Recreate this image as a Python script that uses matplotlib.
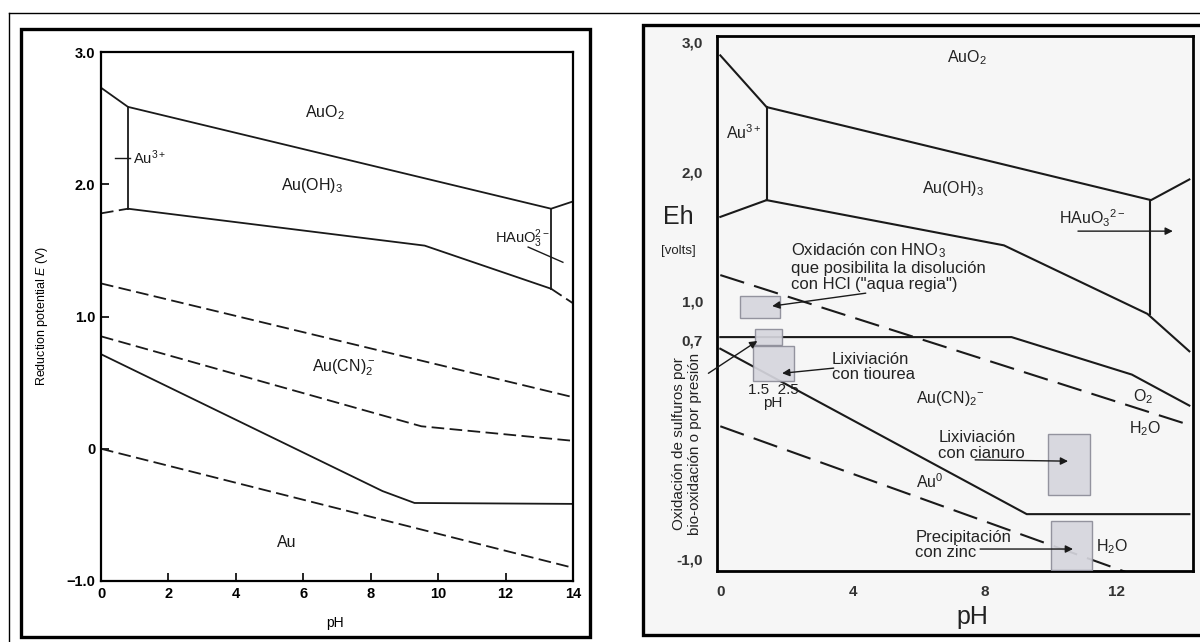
import matplotlib
matplotlib.use("Agg")
import matplotlib.pyplot as plt
from matplotlib.patches import Rectangle
from matplotlib.lines import Line2D

plt.rcParams["font.family"] = ["Liberation Sans", "DejaVu Sans"]
plt.rcParams["mathtext.fontset"] = "custom"
plt.rcParams["mathtext.rm"] = "Liberation Sans"
plt.rcParams["mathtext.it"] = "Liberation Sans:italic"

# ---- left diagram (Au-CN-H2O) ----
L_TOP_PH = [0, 0.8, 13.35, 14]
L_TOP_E = [2.73, 2.585, 1.815, 1.87]
L_AU3_PH = [0.8, 0.8]
L_AU3_E = [2.585, 1.815]
L_AU3_DASH_PH = [0, 0.8]
L_AU3_DASH_E = [1.78, 1.815]
L_OH_LOW_PH = [0.8, 9.6, 13.35]
L_OH_LOW_E = [1.815, 1.536, 1.21]
L_HAUO3_PH = [13.35, 13.35]
L_HAUO3_E = [1.815, 1.21]
L_HAUO3_DASH_PH = [13.35, 14]
L_HAUO3_DASH_E = [1.21, 1.10]
L_O2_PH = [0, 14]
L_O2_E = [1.25, 0.39]
L_CN_DASH_PH = [0, 9.5, 14]
L_CN_DASH_E = [0.85, 0.17, 0.06]
L_AU_PH = [0, 8.35, 9.3, 14]
L_AU_E = [0.715, -0.32, -0.41, -0.417]
L_H2_PH = [0, 14]
L_H2_E = [0.0, -0.9]

L_XTICKS = [0, 2, 4, 6, 8, 10, 12, 14]
L_YTICKS = [-1, 0, 1, 2, 3]
L_YTICK_LABELS = ["\u22121.0", "0", "1.0", "2.0", "3.0"]

# ---- right diagram (annotated Eh-pH) ----
R_TOP_PH = [0, 1.4, 13.03, 14.19]
R_TOP_E = [2.90, 2.50, 1.78, 1.94]
R_AU3_PH = [1.4, 1.4]
R_AU3_E = [2.50, 1.78]
R_AU3_LOW_PH = [0, 1.4]
R_AU3_LOW_E = [1.65, 1.78]
R_OH_LOW_PH = [1.4, 8.58, 12.92, 14.19]
R_OH_LOW_E = [1.78, 1.43, 0.90, 0.61]
R_HAUO3_PH = [13.0, 13.0]
R_HAUO3_E = [1.78, 0.90]
R_O2_PH = [0, 14.07]
R_O2_E = [1.20, 0.05]
R_CN_PH = [0, 8.81, 12.45, 14.19]
R_CN_E = [0.72, 0.72, 0.43, 0.19]
R_AU_PH = [0, 9.27, 14.19]
R_AU_E = [0.63, -0.65, -0.65]
R_H2_PH = [0, 12.51]
R_H2_E = [0.03, -1.12]

# boxes: (pH_min, pH_max, E_min, E_max)
R_BOXES = [
    (0.60, 1.81, 0.87, 1.04),
    (1.06, 1.87, 0.66, 0.78),
    (1.00, 2.24, 0.38, 0.65),
    (9.92, 11.19, -0.50, -0.03),
    (10.00, 11.25, -1.08, -0.70),
]

R_XTICKS = [0, 4, 8, 12]
R_YTICKS = [-1.0, 0.7, 1.0, 2.0, 3.0]
R_YTICK_LABELS = ["-1,0", "0,7", "1,0", "2,0", "3,0"]

W, H = 1200, 642


def px_rect(x0, y0, x1, y1):
    return [x0 / W, 1 - y1 / H, (x1 - x0) / W, (y1 - y0) / H]


def fig_pt(x, y):
    return x / W, 1 - y / H


fig = plt.figure(figsize=(W / 100, H / 100), dpi=100)

# outer thin border and the two thick frames
fig.add_artist(Line2D([9 / W, 1], [1 - 13 / H] * 2, color="black", lw=1.0))
fig.add_artist(Line2D([9 / W] * 2, [0, 1 - 13 / H], color="black", lw=1.0))
fig.add_artist(Rectangle(fig_pt(21, 637), (590 - 21) / W, (637 - 29) / H,
                         transform=fig.transFigure, fill=False, lw=2.4, ec="black"))
fig.add_artist(Rectangle(fig_pt(643, 635), (1215 - 643) / W, (635 - 25) / H,
                         transform=fig.transFigure, fc="#f6f6f6", lw=2.4, ec="black",
                         zorder=-1))

# ================= left panel =================
ax1 = fig.add_axes(px_rect(101, 52, 573, 581))
ax1.set_xlim(0, 14)
ax1.set_ylim(-1, 3)
dash_l = (0, (7, 3))
kw = dict(color="#1a1a1a", lw=1.3)
ax1.plot(L_TOP_PH, L_TOP_E, **kw)
ax1.plot(L_AU3_PH, L_AU3_E, **kw)
ax1.plot(L_AU3_DASH_PH, L_AU3_DASH_E, ls=dash_l, **kw)
ax1.plot(L_OH_LOW_PH, L_OH_LOW_E, **kw)
ax1.plot(L_HAUO3_PH, L_HAUO3_E, **kw)
ax1.plot(L_HAUO3_DASH_PH, L_HAUO3_DASH_E, ls=dash_l, **kw)
ax1.plot(L_O2_PH, L_O2_E, ls=dash_l, **kw)
ax1.plot(L_CN_DASH_PH, L_CN_DASH_E, ls=dash_l, **kw)
ax1.plot(L_AU_PH, L_AU_E, **kw)
ax1.plot(L_H2_PH, L_H2_E, ls=dash_l, **kw)

ax1.plot([0.42, 0.86], [2.20, 2.20], color="#1a1a1a", lw=1.0)
ax1.plot([12.67, 13.70], [1.525, 1.41], color="#1a1a1a", lw=1.0)

lt = dict(fontsize=11.5, color="#1a1a1a", ha="center", va="center")
ax1.text(6.65, 2.54, "AuO$_2$", **lt)
ax1.text(6.25, 1.99, "Au(OH)$_3$", **lt)
ax1.text(7.2, 0.61, "Au(CN)$_2^-$", **lt)
ax1.text(5.5, -0.71, "Au", **lt)
ax1.text(0.95, 2.20, "Au$^{3+}$", fontsize=10.5, color="#1a1a1a", ha="left", va="center")
ax1.text(12.5, 1.59, "HAuO$_3^{2-}$", fontsize=10.5, color="#1a1a1a", ha="center", va="center")

ax1.set_xticks(L_XTICKS)
ax1.set_yticks(L_YTICKS)
ax1.set_yticklabels(L_YTICK_LABELS)
ax1.tick_params(direction="in", length=6, width=1.2, labelsize=10.5, pad=4)
for lab in ax1.get_xticklabels() + ax1.get_yticklabels():
    lab.set_fontweight("bold")
for sp in ax1.spines.values():
    sp.set_linewidth(1.6)

fig.text(*fig_pt(42, 316), "Reduction potential $E$ (V)", rotation=90,
         ha="center", va="center", fontsize=9)
fig.text(*fig_pt(335, 623), "pH", ha="center", va="center", fontsize=10)

# ================= right panel =================
ax2 = fig.add_axes(px_rect(717, 36, 1193, 571))
ax2.set_facecolor("#f6f6f6")
ax2.set_xlim(-0.1, 14.3)
ax2.set_ylim(-1.09, 3.05)
dash_r = (0, (12, 5))
kr = dict(color="#1a1a1a", lw=1.5)
ax2.plot(R_TOP_PH, R_TOP_E, **kr)
ax2.plot(R_AU3_PH, R_AU3_E, **kr)
ax2.plot(R_AU3_LOW_PH, R_AU3_LOW_E, **kr)
ax2.plot(R_OH_LOW_PH, R_OH_LOW_E, **kr)
ax2.plot(R_HAUO3_PH, R_HAUO3_E, **kr)
ax2.plot(R_O2_PH, R_O2_E, ls=dash_r, **kr)
ax2.plot(R_CN_PH, R_CN_E, **kr)
ax2.plot(R_AU_PH, R_AU_E, **kr)
ax2.plot(R_H2_PH, R_H2_E, ls=dash_r, **kr)

for x0, x1, y0, y1 in R_BOXES:
    ax2.add_patch(Rectangle((x0, y0), x1 - x0, y1 - y0, fc="#d6d6de", ec="#8c8c98",
                            lw=1.0, alpha=0.92, zorder=3))

arr = dict(arrowstyle="-|>", lw=1.0, color="#1a1a1a", mutation_scale=11, shrinkA=0, shrinkB=0)
ax2.annotate("", xy=(1.57, 0.96), xytext=(4.4, 1.06), arrowprops=arr, zorder=4)
ax2.annotate("", xy=(1.87, 0.44), xytext=(3.43, 0.48), arrowprops=arr, zorder=4)
ax2.annotate("", xy=(1.12, 0.69), xytext=(-0.36, 0.44), arrowprops=arr,
             annotation_clip=False, zorder=4)
ax2.annotate("", xy=(10.52, -0.24), xytext=(7.71, -0.23), arrowprops=arr, zorder=4)
ax2.annotate("", xy=(10.67, -0.92), xytext=(7.86, -0.92), arrowprops=arr, zorder=4)
ax2.annotate("", xy=(13.69, 1.54), xytext=(10.82, 1.54), arrowprops=arr, zorder=4)

rt = dict(fontsize=11.5, color="#222222", ha="center", va="center")
ax2.text(7.47, 2.88, "AuO$_2$", **rt)
ax2.text(0.70, 2.30, "Au$^{3+}$", **rt)
ax2.text(7.04, 1.87, "Au(OH)$_3$", **rt)
ax2.text(11.25, 1.64, "HAuO$_3$$^{2-}$", **rt)
ax2.text(6.95, 0.245, "Au(CN)$_2$$^{-}$", **rt)
ax2.text(12.8, 0.26, "O$_2$", **rt)
ax2.text(12.85, 0.01, "H$_2$O", **rt)
ax2.text(6.35, -0.40, "Au$^0$", **rt)
ax2.text(11.85, -0.905, "H$_2$O", **rt)

bt = dict(fontsize=12, color="#222222", ha="left", va="center", linespacing=1.05)
ax2.text(2.15, 1.265, "Oxidación con HNO$_3$\nque posibilita la disolución\ncon HCl (\"aqua regia\")", **bt)
ax2.text(3.37, 0.49, "Lixiviación\ncon tiourea", **bt)
ax2.text(6.6, -0.12, "Lixiviación\ncon cianuro", **bt)
ax2.text(5.9, -0.89, "Precipitación\ncon zinc", **bt)
ax2.text(1.62, 0.31, "1.5  2.5", fontsize=11, color="#222222", ha="center", va="center")
ax2.text(1.60, 0.21, "pH", fontsize=11, color="#222222", ha="center", va="center")

ax2.set_xticks(R_XTICKS)
ax2.set_yticks(R_YTICKS)
ax2.set_yticklabels(R_YTICK_LABELS)
ax2.tick_params(length=0, labelsize=11, pad=10, labelcolor="#333333")
for lab in ax2.get_xticklabels() + ax2.get_yticklabels():
    lab.set_fontweight("bold")
for sp in ax2.spines.values():
    sp.set_linewidth(2.0)

fig.text(*fig_pt(678, 217), "Eh", ha="center", va="center", fontsize=18, color="#222222")
fig.text(*fig_pt(678, 251), "[volts]", ha="center", va="center", fontsize=9.5, color="#222222")
fig.text(*fig_pt(687, 444), "Oxidación de sulfuros por\nbio-oxidación o por presión",
         rotation=90, ha="center", va="center", fontsize=11, linespacing=1.1, color="#222222")
fig.text(*fig_pt(972, 617), "pH", ha="center", va="center", fontsize=18, color="#222222")

fig.savefig("out.png", dpi=100)
